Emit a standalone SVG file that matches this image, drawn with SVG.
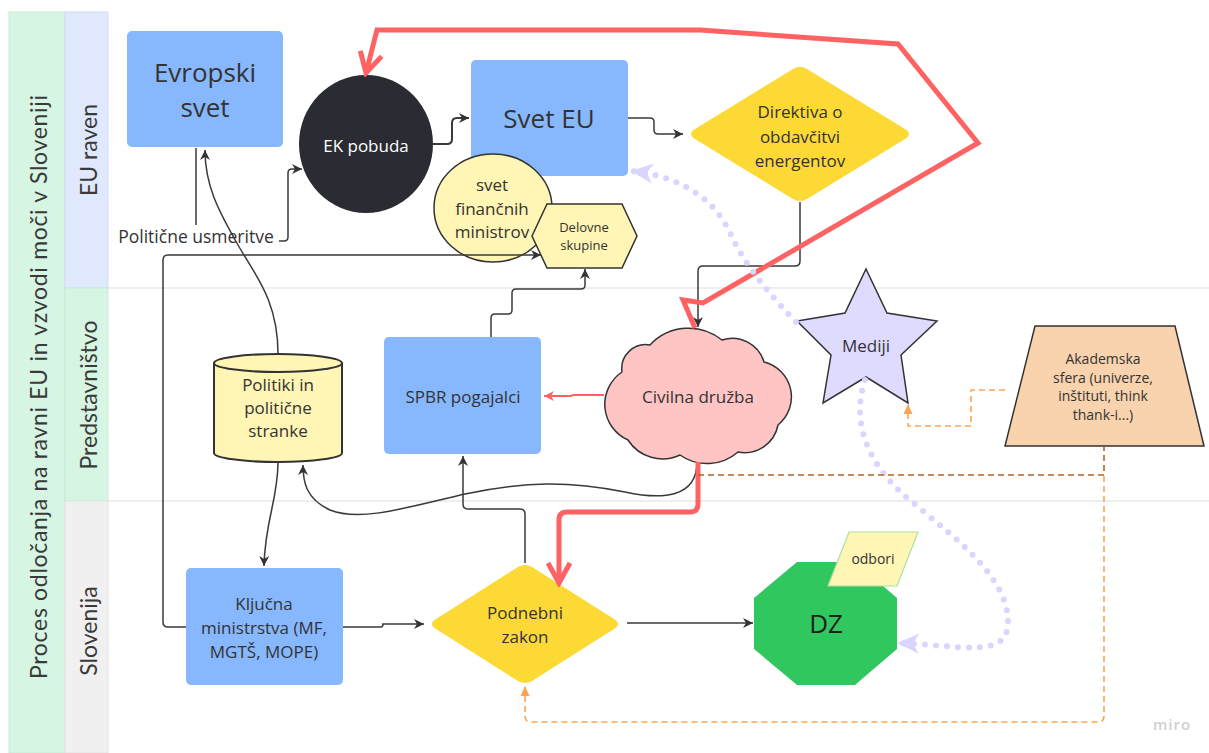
<svg xmlns="http://www.w3.org/2000/svg" width="1209" height="753" viewBox="0 0 1209 753">
  <style>
    .lane-title { font-family: "Lato", "Liberation Sans", sans-serif; font-size: 23px; fill: #3a3a3a; text-anchor: middle; }
    .t { font-family: "Open Sans", "Noto Sans", "Liberation Sans", sans-serif; fill: #333333; text-anchor: middle; }
    .t17 { font-size: 17px; }
    .t14 { font-size: 14px; }
    .t26 { font-size: 26px; }
    .blue { fill: #87b7fd; }
    .pale { fill: #fff5b5; stroke: #333333; stroke-width: 1.5; }
    .gold { fill: #fdd935; }
    .wire { fill: none; stroke: #3a3a3a; stroke-width: 1.5; }
    .red-thick { fill: none; stroke: #ff6262; stroke-width: 5; stroke-linejoin: miter; }
    .red-thin { fill: none; stroke: #ff6262; stroke-width: 2; }
    .lav-dots { fill: none; stroke: #d9d5ff; stroke-width: 6; stroke-linecap: round; stroke-dasharray: 0 11; }
    .orange-dash { fill: none; stroke: #ffa552; stroke-width: 1.6; stroke-dasharray: 6 4; }
    .brown-dash { fill: none; stroke: #b8611f; stroke-width: 1.6; stroke-dasharray: 6 4; }
  </style>
  <defs>
    <marker id="arrowDark" markerUnits="userSpaceOnUse" viewBox="0 0 12 12" refX="11" refY="6" markerWidth="12" markerHeight="12" orient="auto">
      <path d="M1,1 L11,6 L1,11 L4,6 z" fill="#333333"/>
    </marker>
    <marker id="arrowRedThin" markerUnits="userSpaceOnUse" viewBox="0 0 12 12" refX="11" refY="6" markerWidth="12" markerHeight="12" orient="auto">
      <path d="M1,1 L11,6 L1,11 L4,6 z" fill="#ff6262"/>
    </marker>
    <marker id="arrowRedBig" markerUnits="userSpaceOnUse" viewBox="-26 -14 30 28" refX="0" refY="0" markerWidth="30" markerHeight="28" orient="auto">
      <path d="M-20,-11 L0,0 L-20,11" fill="none" stroke="#ff6262" stroke-width="5" stroke-linejoin="miter"/>
    </marker>
    <marker id="arrowLav" markerUnits="userSpaceOnUse" viewBox="0 0 22 22" refX="21" refY="11" markerWidth="22" markerHeight="22" orient="auto">
      <path d="M0,1 L22,11 L0,21 L6,11 z" fill="#d9d5ff"/>
    </marker>
    <marker id="arrowOrange" markerUnits="userSpaceOnUse" viewBox="0 0 10 10" refX="9" refY="5" markerWidth="10" markerHeight="10" orient="auto">
      <path d="M0,0.5 L10,5 L0,9.5 z" fill="#ffa552"/>
    </marker>
  </defs>

  <rect x="0" y="0" width="1209" height="753" fill="#ffffff"/>

  <!-- swimlanes -->
  <g id="lanes">
    <rect x="9" y="12" width="56" height="741" fill="#d6f5e3" stroke="#c8ead5" stroke-width="1"/>
    <rect x="65" y="12" width="43" height="276" fill="#dfe8fd" stroke="#d2dcf2" stroke-width="1"/>
    <rect x="65" y="288" width="43" height="213" fill="#d6f5e3" stroke="#c8ead5" stroke-width="1"/>
    <rect x="65" y="501" width="43" height="252" fill="#f0f0f0" stroke="#e2e2e2" stroke-width="1"/>
    <line x1="108" y1="288" x2="1209" y2="288" stroke="#e8e8e8" stroke-width="1.5"/>
    <line x1="108" y1="501" x2="1209" y2="501" stroke="#e8e8e8" stroke-width="1.5"/>
    <text class="lane-title" transform="translate(47,387) rotate(-90)" textLength="584">Proces odločanja na ravni EU in vzvodi moči v Sloveniji</text>
    <text class="lane-title" transform="translate(97,150) rotate(-90)">EU raven</text>
    <text class="lane-title" transform="translate(97,395) rotate(-90)">Predstavništvo</text>
    <text class="lane-title" transform="translate(97,631) rotate(-90)">Slovenija</text>
  </g>

  <!-- nodes -->
  <g id="evropski-svet">
    <rect class="blue" x="127" y="31" width="156" height="116" rx="5"/>
    <text class="t t26" x="205" y="82">Evropski</text>
    <text class="t t26" x="205" y="117">svet</text>
  </g>

  <g id="ek-pobuda">
    <ellipse cx="366" cy="144" rx="67" ry="69" fill="#2b2c33"/>
    <text class="t t17" x="366" y="152" style="fill:#ffffff">EK pobuda</text>
  </g>

  <g id="svet-eu">
    <rect class="blue" x="471" y="60" width="157" height="116" rx="5"/>
    <text class="t t26" x="549" y="128">Svet EU</text>
  </g>

  <g id="svet-financnih-ministrov">
    <ellipse class="pale" cx="493" cy="208" rx="59" ry="54"/>
    <text class="t t17" x="492" y="191">svet</text>
    <text class="t t17" x="492" y="215">finančnih</text>
    <text class="t t17" x="492" y="238">ministrov</text>
  </g>

  <g id="delovne-skupine">
    <polygon class="pale" points="532,236 547,204 622,204 637,236 622,268 547,268"/>
    <text class="t t14" x="584" y="232" style="font-size:13px">Delovne</text>
    <text class="t t14" x="584" y="250" style="font-size:13px">skupine</text>
  </g>

  <g id="direktiva">
    <path class="gold" d="M793,69 Q800,65 807,69 L905,129 Q913,134 905,139 L807,199 Q800,203 793,199 L695,139 Q687,134 695,129 Z"/>
    <text class="t t17" x="800" y="118">Direktiva o</text>
    <text class="t t17" x="800" y="143">obdavčitvi</text>
    <text class="t t17" x="800" y="167">energentov</text>
  </g>

  <g id="politiki">
    <path class="pale" style="stroke-width:2" d="M214,363 A64,9 0 0 1 342,363 V453 A64,9 0 0 1 214,453 Z"/>
    <path fill="none" stroke="#333333" stroke-width="2" d="M214,363 A64,9 0 0 0 342,363"/>
    <text class="t t17" x="278" y="391">Politiki in</text>
    <text class="t t17" x="278" y="414">politične</text>
    <text class="t t17" x="278" y="437">stranke</text>
  </g>

  <g id="spbr-pogajalci">
    <rect class="blue" x="384" y="337" width="157" height="117" rx="5"/>
    <text class="t t17" x="463" y="403">SPBR pogajalci</text>
  </g>

  <g id="civilna-druzba">
    <path fill="#ffc4c4" stroke="#333333" stroke-width="1.5" d="M622,372 A24,24 0 0 1 650,345 A53,53 0 0 1 722,340 A33,33 0 0 1 764,362 A36,36 0 0 1 778,425 A34,34 0 0 1 738,452 A47,47 0 0 1 680,455 A41,41 0 0 1 628,440 A39,39 0 0 1 622,372 Z"/>
    <text class="t t17" x="698" y="403">Civilna družba</text>
  </g>

  <g id="mediji">
    <polygon fill="#dedbff" stroke="#333333" stroke-width="1.5" points="866,269 887,313 937,321 901,355 908,403 866,377 823,403 831,355 797,321 845,313"/>
    <text class="t t17" x="866" y="352">Mediji</text>
  </g>

  <g id="akademska-sfera">
    <polygon fill="#f8d3ae" stroke="#333333" stroke-width="1.5" points="1035,326 1175,326 1204,446 1005,446"/>
    <text class="t t14" x="1103" y="364">Akademska</text>
    <text class="t t14" x="1103" y="383">sfera (univerze,</text>
    <text class="t t14" x="1103" y="401">inštituti, think</text>
    <text class="t t14" x="1103" y="420">thank-i...)</text>
  </g>

  <g id="kljucna-ministrstva">
    <rect class="blue" x="186" y="568" width="157" height="117" rx="5"/>
    <text class="t t17" x="264" y="610">Ključna</text>
    <text class="t t17" x="264" y="634">ministrstva (MF,</text>
    <text class="t t17" x="264" y="658">MGTŠ, MOPE)</text>
  </g>

  <g id="podnebni-zakon">
    <path class="gold" d="M518,567 Q525,563 532,567 L614,619 Q622,624 614,629 L532,681 Q525,685 518,681 L436,629 Q428,624 436,619 Z"/>
    <text class="t t17" x="525" y="619">Podnebni</text>
    <text class="t t17" x="525" y="643">zakon</text>
  </g>

  <g id="dz">
    <polygon fill="#30c75e" points="797,562 855,562 897,598 897,649 855,685 797,685 754,649 754,598"/>
    <text class="t t26" x="826" y="633" style="fill:#1e1e1e">DZ</text>
  </g>

  <g id="odbori">
    <polygon fill="#fff5b5" stroke="#a8e3a0" stroke-width="1.2" points="849,532 918,532 897,586 828,586"/>
    <text class="t t14" x="873" y="564">odbori</text>
  </g>

  <!-- connectors -->
  <g id="connectors">
    <!-- Evropski svet / Politične usmeritve / EK pobuda -->
    <path class="wire" d="M196,148 V225"/>
    <path class="wire" d="M279,241 H284 Q288,241 288,237 V173 Q288,169 292,169 H302" marker-end="url(#arrowDark)"/>
    <text class="t" x="196" y="243" style="font-size:17.5px">Politične usmeritve</text>
    <!-- EK pobuda -> Svet EU -->
    <path class="wire" style="stroke-width:2" d="M432,144 H447 Q452,144 452,139 V123 Q452,118 457,118 H469" marker-end="url(#arrowDark)"/>
    <!-- Svet EU -> Direktiva -->
    <path class="wire" d="M628,118 H650 Q654,118 654,122 V130 Q654,134 658,134 H683" marker-end="url(#arrowDark)"/>
    <!-- Direktiva -> Civilna družba -->
    <path class="wire" d="M800,202 V261 Q800,266 795,266 H703 Q698,266 698,271 V327" marker-end="url(#arrowDark)"/>
    <!-- Politiki -> Evropski svet -->
    <path class="wire" d="M278,354 C278,300 255,275 238,245 C218,210 205,185 205,150" marker-end="url(#arrowDark)"/>
    <!-- Politiki -> Ključna ministrstva -->
    <path class="wire" d="M278,462 C278,500 265,520 264,566" marker-end="url(#arrowDark)"/>
    <!-- Civilna družba -> Politiki -->
    <path class="wire" d="M697,462 C697,498 662,500 625,492 C570,481 525,481 465,494 C405,508 360,522 330,510 C306,499 303,482 303,465" marker-end="url(#arrowDark)"/>
    <!-- SPBR -> Delovne skupine -->
    <path class="wire" d="M491,337 V318 Q491,314 495,314 H508 Q512,314 512,310 V293 Q512,289 516,289 H581 Q585,289 585,285 V269" marker-end="url(#arrowDark)"/>
    <!-- Podnebni zakon -> SPBR -->
    <path class="wire" d="M525,563 V514 Q525,509 520,509 H468 Q463,509 463,504 V456" marker-end="url(#arrowDark)"/>
    <!-- Ključna -> Podnebni zakon -->
    <path class="wire" d="M343,627 H381 Q383,627 383,624 H424" marker-end="url(#arrowDark)"/>
    <!-- Ključna -> Delovne skupine -->
    <path class="wire" d="M186,627 H168 Q163,627 163,622 V260 Q163,255 168,255 H541" marker-end="url(#arrowDark)"/>
    <!-- Podnebni zakon -> DZ -->
    <path class="wire" d="M627,623 H753" marker-end="url(#arrowDark)"/>
    <!-- Civilna družba -> SPBR -->
    <path class="red-thin" d="M604,395 H573 L571,396 H544" marker-end="url(#arrowRedThin)"/>
    <!-- Civilna družba -> EK pobuda -->
    <path class="red-thick" d="M695,328 L683,300 L703,303 L978,143 L898,44 L700,30 L377,30 L366,73" marker-end="url(#arrowRedBig)"/>
    <!-- Civilna družba -> Podnebni zakon -->
    <path class="red-thick" style="stroke-linejoin:round" d="M698,462 V504 Q698,512 690,512 H567 Q559,512 559,520 V583" marker-end="url(#arrowRedBig)"/>
    <!-- Mediji -> Svet EU -->
    <path class="lav-dots" d="M796,322 C770,295 745,265 732,237 C718,205 690,178 632,171" marker-end="url(#arrowLav)"/>
    <!-- Mediji -> DZ -->
    <path class="lav-dots" d="M865,380 C850,425 870,468 912,502 C958,540 1008,578 1008,622 C1008,660 960,645 898,643" marker-end="url(#arrowLav)"/>
    <!-- Akademska sfera -> Mediji -->
    <path class="orange-dash" d="M1005,390 H971 V426 H908 V405" marker-end="url(#arrowOrange)"/>
    <!-- Akademska sfera -> Podnebni zakon -->
    <path class="orange-dash" d="M1104,476 V716 Q1104,722 1098,722 H531 Q525,722 525,716 V687" marker-end="url(#arrowOrange)"/>
    <!-- Civilna družba - Akademska sfera -->
    <path class="brown-dash" d="M698,475 H1104 V447"/>
  </g>

  <text x="1172" y="730" text-anchor="middle" font-family="Open Sans, Liberation Sans, sans-serif" font-size="15" font-weight="600" fill="#cfcfd6" letter-spacing="1">miro</text>
</svg>
